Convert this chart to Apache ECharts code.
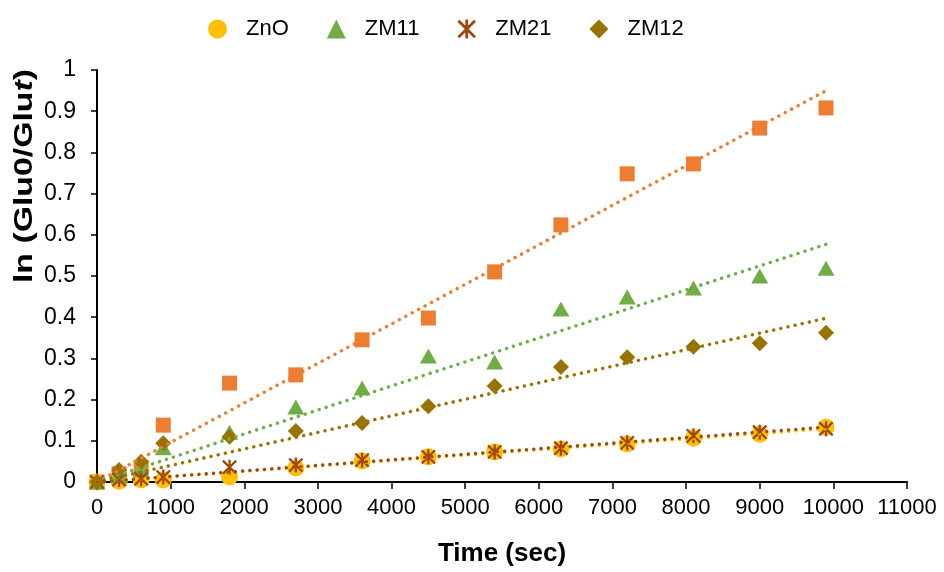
<!DOCTYPE html>
<html>
<head>
<meta charset="utf-8">
<script src="https://cdn.jsdelivr.net/npm/echarts@6/dist/echarts.min.js"></script>
<style>
  html, body { margin: 0; padding: 0; background: #ffffff; }
  #chart { width: 944px; height: 572px; }
</style>
</head>
<body>
<div id="chart"></div>
<script>
// Sampling times (s)
const timeSec = [0, 300, 600, 900, 1800, 2700, 3600, 4500, 5400, 6300, 7200, 8100, 9000, 9900];

// ln(Glu0/Glut) for each catalyst
const seriesSquare = [0, 0.020, 0.035, 0.138, 0.240, 0.260, 0.345, 0.398, 0.510, 0.624, 0.748, 0.772, 0.859, 0.908];
const seriesZnO    = [0, 0.002, 0.005, 0.005, 0.012, 0.034, 0.051, 0.061, 0.073, 0.080, 0.092, 0.106, 0.116, 0.133];
const seriesZM11   = [0, 0.015, 0.030, 0.083, 0.121, 0.182, 0.228, 0.306, 0.291, 0.420, 0.449, 0.471, 0.500, 0.519];
const seriesZM21   = [0, 0.006, 0.008, 0.012, 0.036, 0.041, 0.053, 0.061, 0.073, 0.082, 0.095, 0.112, 0.121, 0.129];
const seriesZM12   = [0, 0.029, 0.049, 0.094, 0.110, 0.124, 0.143, 0.184, 0.233, 0.279, 0.303, 0.328, 0.337, 0.362];

const legendNames = ['ZnO', 'ZM11', 'ZM21', 'ZM12'];

const FONT = '"Liberation Sans", Arial, sans-serif';

// Pair x with y values for a value/value scatter
function pairs(ys) {
  return timeSec.map((t, i) => [t, ys[i]]);
}

// Least-squares linear trendline through the origin (first-order kinetics),
// drawn across the measured time range
function trend(ys) {
  let sxx = 0, sxy = 0;
  for (let i = 0; i < timeSec.length; i++) {
    sxx += timeSec[i] * timeSec[i];
    sxy += timeSec[i] * ys[i];
  }
  const k = sxy / sxx;
  const x0 = timeSec[0], x1 = timeSec[timeSec.length - 1];
  return [[x0, k * x0], [x1, k * x1]];
}

// Six-armed asterisk marker built from three filled bars (same winding)
const ASTERISK = 'path://M6.8,0L9.2,0L9.2,16L6.8,16Z' +
                 'M0.15,1.85L1.85,0.15L15.85,14.15L14.15,15.85Z' +
                 'M14.15,0.15L15.85,1.85L1.85,15.85L0.15,14.15Z';

function scatter(name, ys, symbol, size, color, z) {
  return {
    name: name, type: 'scatter', data: pairs(ys),
    symbol: symbol, symbolSize: size, z: z,
    itemStyle: { color: color, opacity: 1 },
    emphasis: { disabled: true }
  };
}

function trendSeries(ys, color, z) {
  return {
    type: 'line', data: trend(ys), symbol: 'none', silent: true, z: z,
    lineStyle: { color: color, width: 3.4, type: [0.1, 7.2], cap: 'round' },
    emphasis: { disabled: true }
  };
}

const chart = echarts.init(document.getElementById('chart'), null, { renderer: 'canvas' });

chart.setOption({
  animation: false,
  backgroundColor: '#ffffff',
  textStyle: { fontFamily: FONT },
  grid: { left: 97, right: 37, top: 70, bottom: 90, containLabel: false },
  legend: {
    data: legendNames,
    left: 208, top: 18, padding: 0,
    itemWidth: 19, itemHeight: 19, itemGap: 38,
    textStyle: { fontSize: 22, color: '#000000', fontFamily: FONT, padding: [0, 0, 0, 14] },
    selectedMode: false
  },
  xAxis: {
    type: 'value', min: 0, max: 11000, interval: 1000,
    name: 'Time (sec)', nameLocation: 'middle', nameGap: 59,
    nameTextStyle: { fontSize: 26, fontWeight: 'bold', color: '#000000', fontFamily: FONT },
    axisLine: { lineStyle: { color: '#000000', width: 2 } },
    axisTick: { inside: false, length: 7, lineStyle: { color: '#000000', width: 1.5 } },
    axisLabel: { fontSize: 22, color: '#000000', margin: 15, formatter: v => String(v) },
    splitLine: { show: false }
  },
  yAxis: {
    type: 'value', min: 0, max: 1, interval: 0.1,
    axisLine: { show: true, lineStyle: { color: '#000000', width: 2 } },
    axisTick: { show: true, inside: false, length: 6, lineStyle: { color: '#000000', width: 1.5 } },
    axisLabel: { fontSize: 23, color: '#000000', margin: 21, formatter: v => String(Math.round(v * 10) / 10) },
    splitLine: { show: false }
  },
  graphic: [{
    type: 'text', x: 25, y: 176, rotation: Math.PI / 2, scaleX: 1.3,
    style: {
      text: '{b|ln (Glu0/Glu}{i|t}{b|)}',
      align: 'center', verticalAlign: 'middle',
      rich: {
        b: { fontSize: 26, fontWeight: 'bold', fontFamily: FONT, fill: '#000000' },
        i: { fontSize: 26, fontWeight: 'bold', fontStyle: 'italic', fontFamily: FONT, fill: '#000000' }
      }
    }
  }],
  series: [
    scatter('Series5', seriesSquare, 'rect', 15, '#ED7D31', 2),
    scatter('ZnO', seriesZnO, 'circle', 17, '#FFC000', 3),
    scatter('ZM11', seriesZM11, 'triangle', [17, 15], '#70AD47', 4),
    scatter('ZM21', seriesZM21, ASTERISK, 15, '#9E480E', 5),
    scatter('ZM12', seriesZM12, 'diamond', 16, '#997300', 6),
    trendSeries(seriesSquare, '#ED7D31', 10),
    trendSeries(seriesZM11, '#70AD47', 10),
    trendSeries(seriesZM12, '#997300', 10),
    trendSeries(seriesZnO, '#FFC000', 10),
    trendSeries(seriesZM21, '#9E480E', 11)
  ]
});
</script>
</body>
</html>
